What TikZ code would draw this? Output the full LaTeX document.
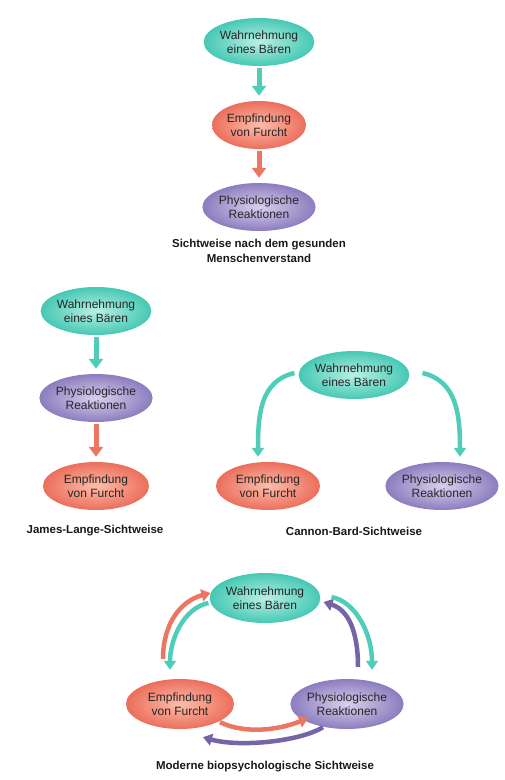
\documentclass[tikz,border=0pt]{standalone}
\usepackage{fontspec}
\setmainfont{Liberation Sans}
\usetikzlibrary{shapes.geometric,arrows.meta,calc}
\definecolor{tealF}{RGB}{70,200,180}
\definecolor{tealL}{RGB}{185,240,228}
\definecolor{redF}{RGB}{236,110,92}
\definecolor{redL}{RGB}{252,190,170}
\definecolor{purF}{RGB}{140,125,190}
\definecolor{purL}{RGB}{215,208,238}
\definecolor{tealA}{RGB}{80,205,185}
\definecolor{redA}{RGB}{236,118,98}
\definecolor{purA}{RGB}{118,100,168}
\tikzset{
  ell/.style={ellipse, inner sep=0pt, minimum height=48pt, align=center,
    font=\fontsize{12}{14.5}\selectfont, text=black!85},
  wahr/.style={ell, inner color=tealL, outer color=tealF},
  furcht/.style={ell, inner color=redL, outer color=redF},
  phys/.style={ell, inner color=purL, outer color=purF},
  captxt/.style={font=\bfseries\fontsize{11.5}{14.5}\selectfont, align=center, text=black!90},
  arr/.style={line width=5pt, -{Triangle[width=14pt,length=10pt]}},
  carr/.style={line width=4.5pt, -{Triangle[width=12pt,length=9pt]}},
}
\begin{document}
\begin{tikzpicture}[x=1pt,y=-1pt]
\useasboundingbox (0,0) rectangle (504,780);
% Section 1
\node[wahr, minimum width=94pt] (w1) at (259,42) {Wahrnehmung\\eines Bären};
\node[furcht, minimum width=94pt] (f1) at (259,125) {Empfindung\\von Furcht};
\node[phys, minimum width=94pt] (p1) at (259,207) {Physiologische\\Reaktionen};
\node[captxt] (c1) at (259,251) {Sichtweise nach dem gesunden\\Menschenverstand};
\draw[arr, tealA, shorten <=2pt, shorten >=5pt] (w1.south) -- (f1.north);
\draw[arr, redA, shorten <=2pt, shorten >=5pt] (f1.south) -- (p1.north);
% Section 2 left
\node[wahr, minimum width=106pt] (w2) at (96,311) {Wahrnehmung\\eines Bären};
\node[phys, minimum width=106pt] (p2) at (96,398) {Physiologische\\Reaktionen};
\node[furcht, minimum width=106pt] (f2) at (96,486) {Empfindung\\von Furcht};
\node[captxt] (c2) at (95,531) {James-Lange-Sichtweise};
\draw[arr, tealA, shorten <=2pt, shorten >=5pt] (w2.south) -- (p2.north);
\draw[arr, redA, shorten <=2pt, shorten >=5pt] (p2.south) -- (f2.north);
% Section 2 right
\node[wahr, minimum width=100pt] (w3) at (354,375) {Wahrnehmung\\eines Bären};
\node[furcht, minimum width=104pt] (f3) at (268,486) {Empfindung\\von Furcht};
\node[phys, minimum width=108pt] (p3) at (442,486) {Physiologische\\Reaktionen};
\node[captxt] (c3) at (354,531) {Cannon-Bard-Sichtweise};
\draw[carr, tealA] ($(w3.west)+(-4,-2)$) .. controls +(-35,8) and +(0,-40) .. ($(f3.north)+(-10,-5)$);
\draw[carr, tealA] ($(w3.east)+(13,-2)$) .. controls +(35,8) and +(0,-40) .. ($(p3.north)+(18,-5)$);
% Section 3
\node[wahr, minimum width=108pt, minimum height=50pt] (w4) at (265,598) {Wahrnehmung\\eines Bären};
\node[furcht, minimum width=108pt, minimum height=50pt] (f4) at (180,704) {Empfindung\\von Furcht};
\node[phys, minimum width=110pt, minimum height=50pt] (p4) at (347,704) {Physiologische\\Reaktionen};
\node[captxt] (c4) at (265,767) {Moderne biopsychologische Sichtweise};
\draw[carr, redA] ($(f4.north)+(-17,-20)$) .. controls +(0,-35) and +(-30,8) .. ($(w4.west)+(1,-5)$);
\draw[carr, tealA] ($(w4.west)+(-1,5)$) .. controls +(-25,5) and +(0,-30) .. ($(f4.north)+(-10,-9)$);
\draw[carr, purA] ($(p4.north)+(11,-12)$) .. controls +(0,-35) and +(25,8) .. ($(w4.east)+(3,4)$);
\draw[carr, tealA] ($(w4.east)+(11,-1)$) .. controls +(25,5) and +(0,-35) .. ($(p4.north)+(25,-9)$);
\draw[carr, redA] ($(f4.south)+(40,-7)$) .. controls +(25,12) and +(-30,12) .. ($(p4.south)+(-39,-11)$);
\draw[carr, purA] ($(p4.south)+(-24,-2)$) .. controls +(-25,15) and +(35,10) .. ($(f4.south)+(23,8)$);
\end{tikzpicture}
\end{document}
